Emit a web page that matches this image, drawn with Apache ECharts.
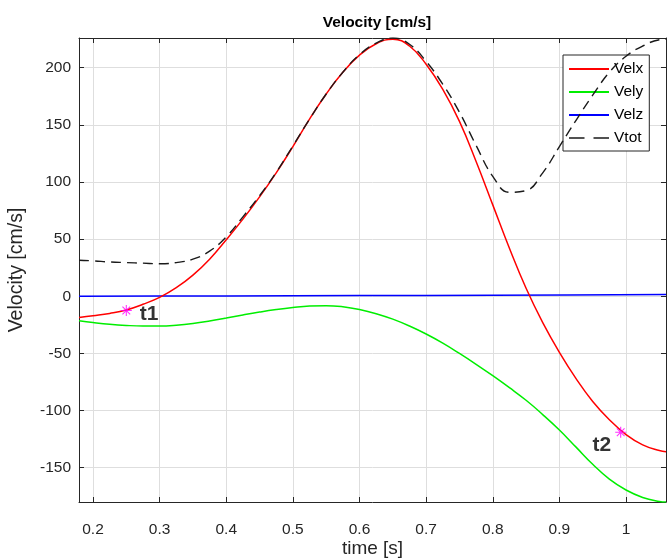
<!DOCTYPE html>
<html>
<head>
<meta charset="utf-8">
<script src="https://cdn.jsdelivr.net/npm/echarts@6/dist/echarts.min.js"></script>
<style>html,body{margin:0;padding:0;background:#fff}#c{width:667px;height:560px}</style>
</head>
<body>
<div id="c"></div>
<script>
const seriesNames = ['Velx', 'Vely', 'Velz', 'Vtot'];
const time = [0.179,0.2,0.225,0.25,0.275,0.3,0.325,0.35,0.375,0.4,0.425,0.45,0.475,0.5,0.525,0.55,0.575,0.6,0.625,0.65,0.675,0.7,0.725,0.75,0.775,0.8,0.825,0.85,0.875,0.9,0.925,0.95,0.975,1.0,1.025,1.05,1.06];
const velx = [-18.5,-17,-15,-12,-7,-1,7.5,18.5,32.5,49.5,67.5,87,108,131,155,177,196,211,221,225,219,203,181,153,118,80,42,7,-23,-49,-72,-92,-108,-121,-130,-135,-136];
const vely = [-21.5,-23,-24.5,-25.5,-26,-26,-25.3,-23.8,-21.6,-19,-16.3,-13.8,-11.6,-9.8,-8.5,-8.2,-9.2,-11.6,-15.2,-20,-26,-33,-41,-50,-59.5,-69.5,-80,-91,-103.5,-117,-132,-147,-160,-169.5,-176,-179.5,-180];
const timeVelz = [0.179,0.4,0.6,0.8,1.06];
const velz = [0,0.3,0.6,1,1.5];
const vtot = [31.5,31,30,29.5,29,28.5,29.5,32.5,39.5,52,69.5,88,108.5,131.5,155,177,196,211.5,221.5,226,220.5,205.5,185.5,161,132,105,91,92.5,108,131,154,176,196,210,219,224.5,225];
const markerTimes = [0.25, 0.992];
const markerValues = [-12.4, -119];
const markerLabels = ['t1', 't2'];
const xTickValues = [0.2,0.3,0.4,0.5,0.6,0.7,0.8,0.9,1];
const yTickValues = [-150,-100,-50,0,50,100,150,200];

function pairs(xs, ys) { return xs.map((x, i) => [x, ys[i]]); }

const asterisk = 'path://M-0.7,-7L0.7,-7L0.7,7L-0.7,7Z M-7,-0.7L7,-0.7L7,0.7L-7,0.7Z M-5.4,-4.4L-4.4,-5.4L5.4,4.4L4.4,5.4Z M4.4,-5.4L5.4,-4.4L-4.4,5.4L-5.4,4.4Z';

const axisCol = '#262626';
const gridCol = '#dedede';
const font = 'Liberation Sans, Arial, sans-serif';

function xAxisDef(pos, withLabels) {
  return {
    type: 'value', min: 0.179, max: 1.06, position: pos,
    axisLine: { show: true, onZero: false, lineStyle: { color: axisCol, width: 1 } },
    axisTick: { show: true, inside: true, length: 5, customValues: xTickValues, lineStyle: { color: axisCol } },
    axisLabel: withLabels
      ? { show: true, customValues: xTickValues, fontFamily: font, fontSize: 15.5, color: axisCol, margin: 20,
          formatter: v => String(Math.round(v * 10) / 10) }
      : { show: false },
    splitLine: { show: withLabels, lineStyle: { color: gridCol, width: 1 } }
  };
}
function yAxisDef(pos, withLabels) {
  return {
    type: 'value', min: -180, max: 226, position: pos,
    axisLine: { show: true, onZero: false, lineStyle: { color: axisCol, width: 1 } },
    axisTick: { show: true, inside: true, length: 5, customValues: yTickValues, lineStyle: { color: axisCol } },
    axisLabel: withLabels
      ? { show: true, customValues: yTickValues, fontFamily: font, fontSize: 15.5, color: axisCol, margin: 8 }
      : { show: false },
    splitLine: { show: withLabels, lineStyle: { color: gridCol, width: 1 } }
  };
}

const xBottom = Object.assign(xAxisDef('bottom', true), {
  name: 'time [s]', nameLocation: 'middle', nameGap: 37, nameMoveOverlap: false,
  nameTextStyle: { fontFamily: font, fontSize: 19, color: axisCol }
});
const yLeft = Object.assign(yAxisDef('left', true), {
  name: 'Velocity [cm/s]', nameLocation: 'middle', nameGap: 52, nameRotate: 90, nameMoveOverlap: false,
  nameTextStyle: { fontFamily: font, fontSize: 19.5, color: axisCol }
});

const chart = echarts.init(document.getElementById('c'), null, { renderer: 'canvas' });
chart.setOption({
  animation: false,
  backgroundColor: '#fff',
  title: {
    text: 'Velocity [cm/s]', left: 372, top: 10, textAlign: 'center',
    textStyle: { fontFamily: font, fontSize: 15.5, fontWeight: 'bold', color: '#000' }
  },
  grid: { left: 79, right: 1, top: 38, bottom: 58, containLabel: false, outerBoundsMode: 'none' },
  legend: {
    data: [
      { name: 'Velx' }, { name: 'Vely' }, { name: 'Velz' },
      { name: 'Vtot', lineStyle: { type: [15.5, 9], width: 1.5 } }
    ],
    orient: 'vertical', left: 563, top: 55,
    backgroundColor: '#fff', borderColor: axisCol, borderWidth: 1,
    padding: [6, 6, 5, 5], itemGap: 7, itemWidth: 40, itemHeight: 16,
    itemStyle: { opacity: 0 },
    textStyle: { fontFamily: font, fontSize: 15.5, lineHeight: 16, color: '#000' }
  },
  xAxis: [xBottom, xAxisDef('top', false)],
  yAxis: [yLeft, yAxisDef('right', false)],
  series: [
    { name: 'Velx', type: 'line', data: pairs(time, velx), smooth: 0.45, showSymbol: false, symbol: 'none',
      lineStyle: { color: '#ff0000', width: 1.5 }, itemStyle: { color: '#ff0000' }, z: 4 },
    { name: 'Vely', type: 'line', data: pairs(time, vely), smooth: 0.45, showSymbol: false, symbol: 'none',
      lineStyle: { color: '#00ee00', width: 1.5 }, itemStyle: { color: '#00ee00' }, z: 3 },
    { name: 'Velz', type: 'line', data: pairs(timeVelz, velz), smooth: 0.3, showSymbol: false, symbol: 'none',
      lineStyle: { color: '#0000ff', width: 1.5 }, itemStyle: { color: '#0000ff' }, z: 3 },
    { name: 'Vtot', type: 'line', data: pairs(time, vtot), smooth: 0.45, showSymbol: false, symbol: 'none',
      lineStyle: { color: '#1a1a1a', width: 1.4, type: [10, 6] }, itemStyle: { color: '#1a1a1a' }, z: 5 },
    { name: 'markers', type: 'scatter', symbol: asterisk, symbolSize: 11, z: 6,
      itemStyle: { color: '#ff00ff' },
      data: markerTimes.map((t, i) => ({
        value: [t, markerValues[i]],
        label: {
          show: true, formatter: markerLabels[i],
          position: i === 0 ? 'right' : 'left',
          offset: i === 0 ? [3, 4] : [1, 13],
          fontFamily: font, fontSize: 21, fontWeight: 'bold', color: '#000'
        }
      }))
    }
  ]
});
</script>
</body>
</html>
